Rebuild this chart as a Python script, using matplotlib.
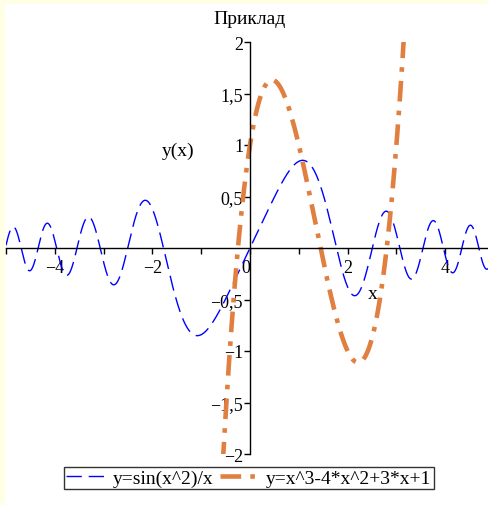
import numpy as np
import matplotlib
matplotlib.use("Agg")
import matplotlib.pyplot as plt
from matplotlib.patches import Rectangle

plt.rcParams["font.family"] = ["Liberation Serif", "DejaVu Serif"]
plt.rcParams["axes.unicode_minus"] = True

# curves as given in the legend, sampled over the plotted range
x_vals = np.linspace(-5.0, 5.0, 2001)
x_nz = np.where(x_vals == 0, 1e-9, x_vals)
y_sin = np.sin(x_nz ** 2) / x_nz
y_poly = x_vals ** 3 - 4 * x_vals ** 2 + 3 * x_vals + 1

labels = ["y=sin(x^2)/x", "y=x^3-4*x^2+3*x+1"]
x_major = [-4, -2, 0, 2, 4]
x_minor = [-5, -3, -1, 1, 3]
y_major = [-2, -1.5, -1, -0.5, 0.5, 1, 1.5, 2]

W, H = 489, 506
fig = plt.figure(figsize=(W / 100, H / 100), dpi=100)
fig.patch.set_facecolor("white")
edge = "#ffffe6"
fig.add_artist(Rectangle((0, 1 - 5 / H), 1, 5 / H, transform=fig.transFigure,
                         facecolor=edge, edgecolor="none", zorder=-5))
fig.add_artist(Rectangle((0, 0), 5 / W, 1, transform=fig.transFigure,
                         facecolor=edge, edgecolor="none", zorder=-5))

x_lo, x_hi = -5.0, 4.9
px_per_x = 48.8
left = 250 - (0 - x_lo) * px_per_x
right = 250 + x_hi * px_per_x
ax = fig.add_axes([left / W, (H - 455) / H, (right - left) / W, (455 - 43) / H])
ax.set_facecolor("none")
ax.set_xlim(x_lo, x_hi)
ax.set_ylim(-2, 2)

for s in ("top", "right"):
    ax.spines[s].set_visible(False)
ax.spines["left"].set_position(("data", 0))
ax.spines["bottom"].set_position(("data", 0))
for s in ("left", "bottom"):
    ax.spines[s].set_linewidth(1.0)

ax.set_xticks(x_major)
ax.set_xticks(x_minor, minor=True)
ax.set_xticklabels([f"{v}".replace("-", "\u2212") for v in x_major])
ax.set_yticks(y_major)
ax.set_yticklabels([f"{v:g}".replace(".", ",").replace("-", "\u2212") for v in y_major])
ax.tick_params(axis="x", which="both", direction="out", length=4, width=1,
               labelsize=13, pad=4)
ax.tick_params(axis="y", direction="out", length=4, width=1, labelsize=13, pad=1)
# the zero label sits just left of the vertical axis
ax.get_xticklabels()[2].set_horizontalalignment("right")

ax.plot(x_vals, y_sin, color="#0000ff", lw=1.0, dashes=(11, 5), label=labels[0])
ax.plot(x_vals, y_poly, color="#e07f3f", lw=3.3, dashes=(4.5, 2, 1, 2),
        dash_capstyle="butt", label=labels[1])

ax.text(2.52, -0.44, "x", fontsize=14, ha="center", va="center")
ax.text(-1.48, 0.95, "y(x)", fontsize=14, ha="center", va="center")
fig.text(250 / W, 1 - 20 / H, "Приклад", fontsize=14, ha="center", va="center")

leg = fig.legend(loc="center", bbox_to_anchor=(249 / W, 27 / H), ncol=2,
                 fontsize=14, frameon=True, fancybox=False, handlelength=2.1,
                 handletextpad=0.3, columnspacing=0.3, borderpad=0.1,
                 borderaxespad=0)
leg.get_frame().set_edgecolor("black")
leg.get_frame().set_linewidth(1.0)

fig.savefig("out.png", dpi=100, facecolor=fig.get_facecolor())
